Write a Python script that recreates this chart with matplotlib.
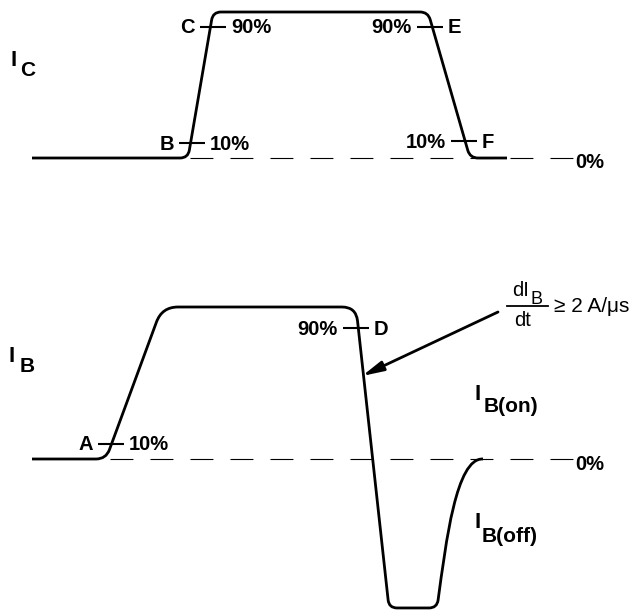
import numpy as np
import matplotlib
matplotlib.use('Agg')
import matplotlib.pyplot as plt
from matplotlib.path import Path
from matplotlib.patches import PathPatch, FancyArrowPatch

plt.rcParams['font.family'] = ['Liberation Sans', 'DejaVu Sans']
plt.rcParams['lines.scale_dashes'] = False

# time axis is in picture units, levels are in % of the on-state value
ic_t = [32, 188, 213, 428, 470, 507]
ic_level = [0, 0, 100, 100, 0, 0]
ic_round = [0, 8, 8, 8, 8, 0]

ib_t = [32, 106, 162, 356, 389, 437]
ib_level = [0, 0, 100, 100, -98, -98]
ib_round = [0, 10, 16, 14, 8, 8]
# recovery of the reverse base current back to zero (bezier controls + end)
ib_recover_t = [446, 456, 483]
ib_recover_level = [-55, 1, 0]

# tick marks: letter, percent label, level, time of the tick centre, letter side
ic_marks = ['B', 'C', 'E', 'F']
ic_mark_pct = ['10%', '90%', '90%', '10%']
ic_mark_level = [10, 90, 90, 11.5]
ic_mark_t = [192, 213, 430, 464]
ic_mark_side = ['left', 'left', 'right', 'right']

ib_marks = ['A', 'D']
ib_mark_pct = ['10%', '90%']
ib_mark_level = [10, 86]
ib_mark_t = [111, 356]
ib_mark_side = ['left', 'right']

dash_start = {'ic': 190, 'ib': 110}
dash_end = 573

# pixel mapping for the two panels
ic_base, ic_scale = 158, 1.46
ib_base, ib_scale = 459, 1.52


def yc(p):
    return ic_base - ic_scale * np.asarray(p, dtype=float)


def yb(p):
    return ib_base - ib_scale * np.asarray(p, dtype=float)


def rounded(xs, ys, rs, extra=None):
    pts = np.column_stack([xs, ys]).astype(float)
    verts = [pts[0]]
    codes = [Path.MOVETO]
    n = len(pts)
    for i in range(1, n):
        p = pts[i]
        r = rs[i]
        if i == n - 1 and extra is None:
            verts.append(p)
            codes.append(Path.LINETO)
            break
        a = pts[i - 1]
        b = pts[i + 1] if i < n - 1 else np.array(extra[0], dtype=float)
        if r == 0:
            verts.append(p)
            codes.append(Path.LINETO)
            continue
        ua = (a - p) / np.hypot(*(a - p))
        ub = (b - p) / np.hypot(*(b - p))
        verts += [p + r * ua, p, p + r * ub]
        codes += [Path.LINETO, Path.CURVE3, Path.CURVE3]
    if extra is not None:
        for q in extra:
            verts.append(np.array(q, dtype=float))
            codes.append(Path.CURVE4)
    return Path(verts, codes)


fig = plt.figure(figsize=(6.36, 6.13), dpi=100)
ax = fig.add_axes([0, 0, 1, 1])
ax.set_xlim(0, 636)
ax.set_ylim(613, 0)
ax.axis('off')

lw = 2.0
bold = dict(fontsize=14.5, fontweight='bold', va='center')

# collector current
ax.add_patch(PathPatch(rounded(ic_t, yc(ic_level), ic_round), fill=False, lw=lw, capstyle='butt', joinstyle='round'))
# base current
rec = list(zip(ib_recover_t, yb(ib_recover_level)))
ax.add_patch(PathPatch(rounded(ib_t, yb(ib_level), ib_round, extra=rec), fill=False, lw=lw, capstyle='butt', joinstyle='round'))

# zero-level dashed references
ax.plot([dash_start['ic'], dash_end], [ic_base, ic_base], color='black', lw=0.8, dashes=(16.5, 12.3))
ax.plot([dash_start['ib'], dash_end], [ib_base, ib_base], color='black', lw=0.8, dashes=(16.5, 12.3))
ax.text(575, ic_base + 5, '0%', ha='left', **bold)
ax.text(575, ib_base + 5, '0%', ha='left', **bold)


def marks(names, pcts, levels, ts, sides, fy):
    for nm, pc, lv, t, sd in zip(names, pcts, levels, ts, sides):
        y = float(fy(lv))
        ax.plot([t - 13, t + 13], [y, y], color='black', lw=1.5, solid_capstyle='butt')
        left_txt, right_txt = (nm, pc) if sd == 'left' else (pc, nm)
        ax.text(t - 18, y + 1, left_txt, ha='right', **bold)
        ax.text(t + 18, y + 1, right_txt, ha='left', **bold)


marks(ic_marks, ic_mark_pct, ic_mark_level, ic_mark_t, ic_mark_side, yc)
marks(ib_marks, ib_mark_pct, ib_mark_level, ib_mark_t, ib_mark_side, yb)

# channel names
big = dict(fontsize=16, fontweight='bold', va='center', ha='left')
sub = dict(fontsize=15, fontweight='bold', va='center', ha='left')
ax.text(11, 60, 'I', **big)
ax.text(20, 70, 'C', **sub)
ax.text(9, 357, 'I', **big)
ax.text(20, 366, 'B', **sub)
ax.text(475, 395, 'I', **big)
ax.text(484, 406, 'B(on)', **sub)
ax.text(475, 522, 'I', **big)
ax.text(482, 536, 'B(off)', **sub)

# di/dt note
ax.text(512, 291, 'dI', ha='left', va='center', fontsize=14.5)
ax.text(531, 299, 'B', ha='left', va='center', fontsize=13)
ax.plot([507, 548], [306, 306], color='black', lw=1.3)
ax.text(514, 320, 'dt', ha='left', va='center', fontsize=14.5)
ax.text(554, 306, '\u2265 2 A/\u03bcs', ha='left', va='center', fontsize=15)
ax.add_patch(FancyArrowPatch((498, 312), (362, 376), arrowstyle='-|>,head_length=0.85,head_width=0.2',
                             mutation_scale=15, lw=2.0, color='black', shrinkA=0, shrinkB=0))

fig.savefig('out.png', dpi=100)
